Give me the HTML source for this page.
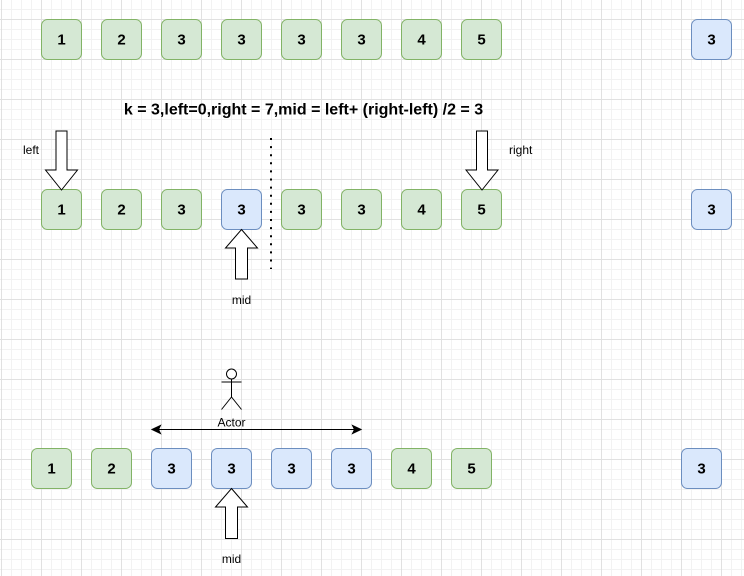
<!DOCTYPE html>
<html>
<head>
<meta charset="utf-8">
<style>
html,body{margin:0;padding:0;background:#fff;}
svg{display:block;}
text{font-family:"Liberation Sans",Arial,sans-serif;fill:#000;}
.num{font-size:15px;font-weight:bold;text-anchor:middle;}
.lbl{font-size:12px;}
</style>
</head>
<body>
<svg width="744" height="576" viewBox="0 0 744 576" xmlns="http://www.w3.org/2000/svg">
<defs>
<pattern id="minor" width="10" height="10" patternUnits="userSpaceOnUse" x="1" y="9">
<path d="M0 0.5H10 M0.5 0V10" stroke="#f2f2f2" stroke-width="1" fill="none"/>
</pattern>
<pattern id="major" width="40" height="40" patternUnits="userSpaceOnUse" x="1" y="19">
<path d="M0 0.5H40 M0.5 0V40" stroke="#e1e1e1" stroke-width="1" fill="none"/>
</pattern>
</defs>
<rect width="744" height="576" fill="#fff"/>
<rect width="744" height="576" fill="url(#minor)"/>
<rect width="744" height="576" fill="url(#major)"/>

<!-- Row 1 -->
<g stroke-width="1">
<rect x="41.5" y="19.5" width="40" height="40" rx="6" fill="#d5e8d4" stroke="#82b366"/>
<rect x="101.5" y="19.5" width="40" height="40" rx="6" fill="#d5e8d4" stroke="#82b366"/>
<rect x="161.5" y="19.5" width="40" height="40" rx="6" fill="#d5e8d4" stroke="#82b366"/>
<rect x="221.5" y="19.5" width="40" height="40" rx="6" fill="#d5e8d4" stroke="#82b366"/>
<rect x="281.5" y="19.5" width="40" height="40" rx="6" fill="#d5e8d4" stroke="#82b366"/>
<rect x="341.5" y="19.5" width="40" height="40" rx="6" fill="#d5e8d4" stroke="#82b366"/>
<rect x="401.5" y="19.5" width="40" height="40" rx="6" fill="#d5e8d4" stroke="#82b366"/>
<rect x="461.5" y="19.5" width="40" height="40" rx="6" fill="#d5e8d4" stroke="#82b366"/>
<rect x="691.5" y="19.5" width="40" height="40" rx="6" fill="#dae8fc" stroke="#6c8ebf"/>
</g>
<text class="num" x="61.5" y="44.5">1</text>
<text class="num" x="121.5" y="44.5">2</text>
<text class="num" x="181.5" y="44.5">3</text>
<text class="num" x="241.5" y="44.5">3</text>
<text class="num" x="301.5" y="44.5">3</text>
<text class="num" x="361.5" y="44.5">3</text>
<text class="num" x="421.5" y="44.5">4</text>
<text class="num" x="481.5" y="44.5">5</text>
<text class="num" x="711.5" y="44.5">3</text>

<!-- Title -->
<text x="303.5" y="114.5" text-anchor="middle" style="font-size:16px;font-weight:bold;">k = 3,left=0,right = 7,mid = left+ (right-left) /2 = 3</text>

<!-- Row 2 -->
<g stroke-width="1">
<rect x="41.5" y="189.5" width="40" height="40" rx="6" fill="#d5e8d4" stroke="#82b366"/>
<rect x="101.5" y="189.5" width="40" height="40" rx="6" fill="#d5e8d4" stroke="#82b366"/>
<rect x="161.5" y="189.5" width="40" height="40" rx="6" fill="#d5e8d4" stroke="#82b366"/>
<rect x="221.5" y="189.5" width="40" height="40" rx="6" fill="#dae8fc" stroke="#6c8ebf"/>
<rect x="281.5" y="189.5" width="40" height="40" rx="6" fill="#d5e8d4" stroke="#82b366"/>
<rect x="341.5" y="189.5" width="40" height="40" rx="6" fill="#d5e8d4" stroke="#82b366"/>
<rect x="401.5" y="189.5" width="40" height="40" rx="6" fill="#d5e8d4" stroke="#82b366"/>
<rect x="461.5" y="189.5" width="40" height="40" rx="6" fill="#d5e8d4" stroke="#82b366"/>
<rect x="691.5" y="189.5" width="40" height="40" rx="6" fill="#dae8fc" stroke="#6c8ebf"/>
</g>
<text class="num" x="61.5" y="214.5">1</text>
<text class="num" x="121.5" y="214.5">2</text>
<text class="num" x="181.5" y="214.5">3</text>
<text class="num" x="241.5" y="214.5">3</text>
<text class="num" x="301.5" y="214.5">3</text>
<text class="num" x="361.5" y="214.5">3</text>
<text class="num" x="421.5" y="214.5">4</text>
<text class="num" x="481.5" y="214.5">5</text>
<text class="num" x="711.5" y="214.5">3</text>

<!-- left arrow (down) -->
<path d="M56 131 H67 V170 H77.5 L61.5 190 L45.5 170 H56 Z" fill="#fff" stroke="#000" stroke-width="1"/>
<text class="lbl" x="23" y="154">left</text>

<!-- right arrow (down) -->
<path d="M476.5 131 H487.5 V170 H498 L482 190 L466 170 H476.5 Z" fill="#fff" stroke="#000" stroke-width="1"/>
<text class="lbl" x="509" y="154">right</text>

<!-- mid arrow row 2 (up) -->
<path d="M241.5 229.5 L257.5 248 H247.5 V279 H235.5 V248 H225.5 Z" fill="#fff" stroke="#000" stroke-width="1"/>
<text class="lbl" x="241.5" y="304" text-anchor="middle">mid</text>

<!-- dotted divider -->
<line x1="271" y1="138" x2="271" y2="269" stroke="#000" stroke-width="2" stroke-dasharray="2 6.1"/>

<!-- Actor -->
<g stroke="#000" stroke-width="1" fill="none">
<circle cx="231.5" cy="374" r="5" fill="#fff"/>
<line x1="231.5" y1="379" x2="231.5" y2="397"/>
<line x1="221.5" y1="382" x2="241.5" y2="382"/>
<line x1="231.5" y1="397" x2="221.5" y2="409.5"/>
<line x1="231.5" y1="397" x2="241.5" y2="409.5"/>
</g>
<text class="lbl" x="231.5" y="426.5" text-anchor="middle">Actor</text>

<!-- double arrow -->
<line x1="157" y1="429.5" x2="356" y2="429.5" stroke="#000" stroke-width="1"/>
<path d="M152 429.5 L160.5 425.5 L158.5 429.5 L160.5 433.5 Z" fill="#000" stroke="#000" stroke-width="1"/>
<path d="M361 429.5 L352.5 425.5 L354.5 429.5 L352.5 433.5 Z" fill="#000" stroke="#000" stroke-width="1"/>

<!-- Row 3 -->
<g stroke-width="1">
<rect x="31.5" y="448.5" width="40" height="40" rx="6" fill="#d5e8d4" stroke="#82b366"/>
<rect x="91.5" y="448.5" width="40" height="40" rx="6" fill="#d5e8d4" stroke="#82b366"/>
<rect x="151.5" y="448.5" width="40" height="40" rx="6" fill="#dae8fc" stroke="#6c8ebf"/>
<rect x="211.5" y="448.5" width="40" height="40" rx="6" fill="#dae8fc" stroke="#6c8ebf"/>
<rect x="271.5" y="448.5" width="40" height="40" rx="6" fill="#dae8fc" stroke="#6c8ebf"/>
<rect x="331.5" y="448.5" width="40" height="40" rx="6" fill="#dae8fc" stroke="#6c8ebf"/>
<rect x="391.5" y="448.5" width="40" height="40" rx="6" fill="#d5e8d4" stroke="#82b366"/>
<rect x="451.5" y="448.5" width="40" height="40" rx="6" fill="#d5e8d4" stroke="#82b366"/>
<rect x="681.5" y="448.5" width="40" height="40" rx="6" fill="#dae8fc" stroke="#6c8ebf"/>
</g>
<text class="num" x="51.5" y="473.5">1</text>
<text class="num" x="111.5" y="473.5">2</text>
<text class="num" x="171.5" y="473.5">3</text>
<text class="num" x="231.5" y="473.5">3</text>
<text class="num" x="291.5" y="473.5">3</text>
<text class="num" x="351.5" y="473.5">3</text>
<text class="num" x="411.5" y="473.5">4</text>
<text class="num" x="471.5" y="473.5">5</text>
<text class="num" x="701.5" y="473.5">3</text>

<!-- mid arrow row 3 (up) -->
<path d="M231.5 488.5 L247.5 507 H237.5 V538.5 H225.5 V507 H215.5 Z" fill="#fff" stroke="#000" stroke-width="1"/>
<text class="lbl" x="231.5" y="563" text-anchor="middle">mid</text>
</svg>
</body>
</html>
